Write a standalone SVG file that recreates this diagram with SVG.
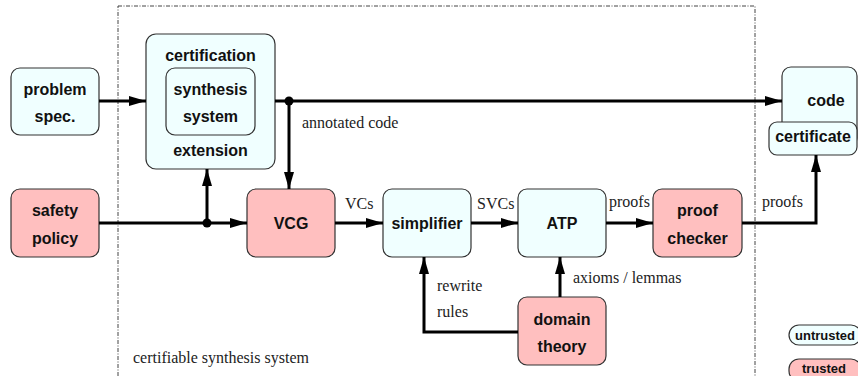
<svg xmlns="http://www.w3.org/2000/svg" width="858" height="376" viewBox="0 0 858 376">
<style>
.u{fill:#f0ffff;stroke:#333;stroke-width:1.2}
.t{fill:#ffbfbf;stroke:#333;stroke-width:1.2}
.b{font-family:"Liberation Sans",Arial,sans-serif;font-weight:bold;font-size:16px;fill:#111;text-anchor:middle}
.s{font-family:"Liberation Serif","Times New Roman",serif;font-size:16px;fill:#222}
.lg{font-family:"Liberation Sans",Arial,sans-serif;font-weight:bold;font-size:13px;fill:#111;text-anchor:middle}
.c{fill:none;stroke:#000;stroke-width:3}
</style>
<defs>
<marker id="ah" markerUnits="userSpaceOnUse" markerWidth="18" markerHeight="12" refX="17" refY="5" orient="auto">
<path d="M0,0 L17,5 L0,10 z" fill="#000"/>
</marker>
</defs>
<rect width="858" height="376" fill="#fff"/>
<rect x="118" y="6" width="637" height="380" fill="none" stroke="#444" stroke-width="1" stroke-dasharray="4 1.5 1 1.5"/>
<text class="s" x="133" y="363">certifiable synthesis system</text>

<g id="problem-spec"><rect class="u" x="11" y="68" width="88" height="67" rx="9"/><text class="b" x="55" y="95">problem</text><text class="b" x="55" y="122">spec.</text></g>
<g id="certification"><rect class="u" x="146" y="34" width="129" height="135" rx="10"/><text class="b" x="210.5" y="61">certification</text><text class="b" x="210.5" y="156">extension</text></g>
<g id="synthesis-system"><rect class="u" x="166" y="68" width="89" height="67" rx="9"/><text class="b" x="210.5" y="95">synthesis</text><text class="b" x="210.5" y="122">system</text></g>
<g id="safety-policy"><rect class="t" x="11" y="189" width="88" height="68" rx="9"/><text class="b" x="55" y="216">safety</text><text class="b" x="55" y="244">policy</text></g>
<g id="vcg"><rect class="t" x="247" y="189" width="88" height="68" rx="9"/><text class="b" x="291" y="229">VCG</text></g>
<g id="simplifier"><rect class="u" x="383" y="189" width="88" height="68" rx="9"/><text class="b" x="427" y="229">simplifier</text></g>
<g id="atp"><rect class="u" x="518" y="189" width="88" height="68" rx="9"/><text class="b" x="562" y="229">ATP</text></g>
<g id="proof-checker"><rect class="t" x="653" y="189" width="89" height="68" rx="9"/><text class="b" x="697.5" y="216">proof</text><text class="b" x="697.5" y="244">checker</text></g>
<g id="domain-theory"><rect class="t" x="518" y="297" width="88" height="68" rx="9"/><text class="b" x="562" y="325">domain</text><text class="b" x="562" y="352">theory</text></g>
<g id="code"><rect class="u" x="782" y="67" width="75" height="80" rx="9"/><text class="b" x="826" y="106">code</text></g>
<g id="certificate"><rect class="u" x="769" y="122" width="88" height="33" rx="8"/><text class="b" x="813" y="142">certificate</text></g>

<g id="connectors">
<path class="c" d="M99,101 H146" marker-end="url(#ah)"/>
<path class="c" d="M275,101 H782" marker-end="url(#ah)"/>
<path class="c" d="M289,101 V189" marker-end="url(#ah)"/>
<circle cx="289" cy="101" r="4.5" fill="#000"/>
<path class="c" d="M99,223 H247" marker-end="url(#ah)"/>
<path class="c" d="M207,223 V169" marker-end="url(#ah)"/>
<circle cx="207" cy="223" r="4.5" fill="#000"/>
<path class="c" d="M335,223 H383" marker-end="url(#ah)"/>
<path class="c" d="M471,223 H518" marker-end="url(#ah)"/>
<path class="c" d="M606,223 H653" marker-end="url(#ah)"/>
<path class="c" d="M742,223 H816 V155" marker-end="url(#ah)"/>
<path class="c" d="M560,297 V257" marker-end="url(#ah)"/>
<path class="c" d="M518,332 H424 V257" marker-end="url(#ah)"/>
<text class="s" x="302" y="128">annotated code</text>
<text class="s" x="345" y="209">VCs</text>
<text class="s" x="477" y="209">SVCs</text>
<text class="s" x="609" y="207">proofs</text>
<text class="s" x="762" y="207">proofs</text>
<text class="s" x="573" y="283">axioms / lemmas</text>
<text class="s" x="437" y="291">rewrite</text>
<text class="s" x="437" y="317">rules</text>
</g>

<g id="legend-untrusted"><rect class="u" x="789" y="325" width="72" height="20" rx="10"/><text class="lg" x="825" y="340">untrusted</text></g>
<g id="legend-trusted"><rect class="t" x="789" y="359" width="72" height="22" rx="10"/><text class="lg" x="824" y="373">trusted</text></g>
</svg>
